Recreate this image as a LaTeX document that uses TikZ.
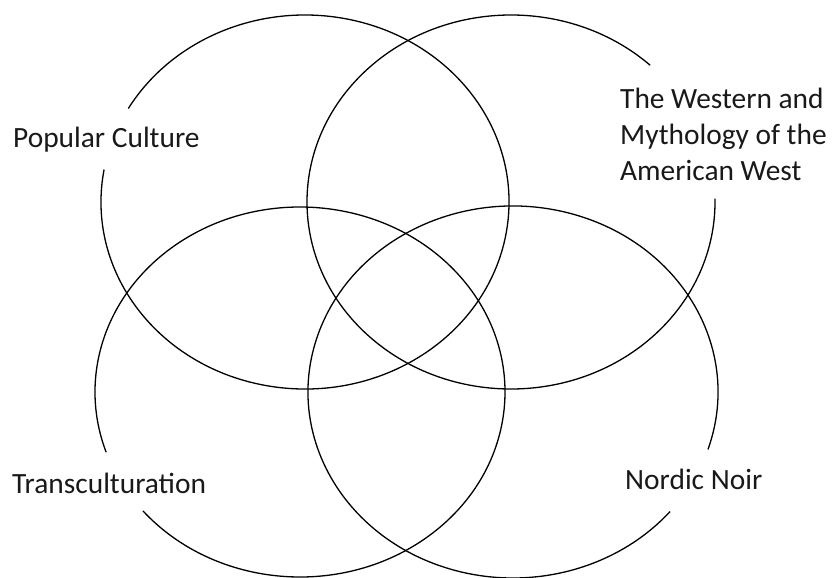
\documentclass[tikz,border=0pt]{standalone}
\usepackage{fontspec}
\setmainfont{Carlito}
\definecolor{RingClr}{rgb}{0,0,0}
\definecolor{TagClr}{rgb}{0.1,0.1,0.1}

\begin{document}
\begin{tikzpicture}[x=1pt,y=1pt,
  ring/.style={line width=1.3pt,color=RingClr},
  tag/.style={font=\fontsize{29.4}{36}\selectfont,text=TagClr,inner sep=0pt,align=left}]
\useasboundingbox (0,0) rectangle (833,-578);

\coordinate (Pop) at (305,-202);
\coordinate (Wst) at (511,-202);
\coordinate (Trn) at (300,-392);
\coordinate (Nrd) at (513,-392);

\draw[ring] (Pop) ++(170:204pt and 187pt)
  arc[start angle=170,end angle=510,x radius=204pt,y radius=187pt];
\draw[ring] (Wst) ++(47:204pt and 187pt)
  arc[start angle=47,end angle=361,x radius=204pt,y radius=187pt];
\draw[ring] (Trn) ++(220:205pt and 185pt)
  arc[start angle=220,end angle=559,x radius=205pt,y radius=185pt];
\draw[ring] (Nrd) ++(342:205pt and 186pt)
  arc[start angle=342,end angle=680,x radius=205pt,y radius=186pt];

\node[tag,anchor=west] (popL) at (13,-140) {Popular Culture};
\node[tag,anchor=west] (wstL) at (620,-134) {The Western and\\Mythology of the\\American West};
\node[tag,anchor=west] (trnL) at (12,-483) {Transculturation};
\node[tag,anchor=west] (nrdL) at (625,-479) {Nordic Noir};

\end{tikzpicture}
\end{document}
